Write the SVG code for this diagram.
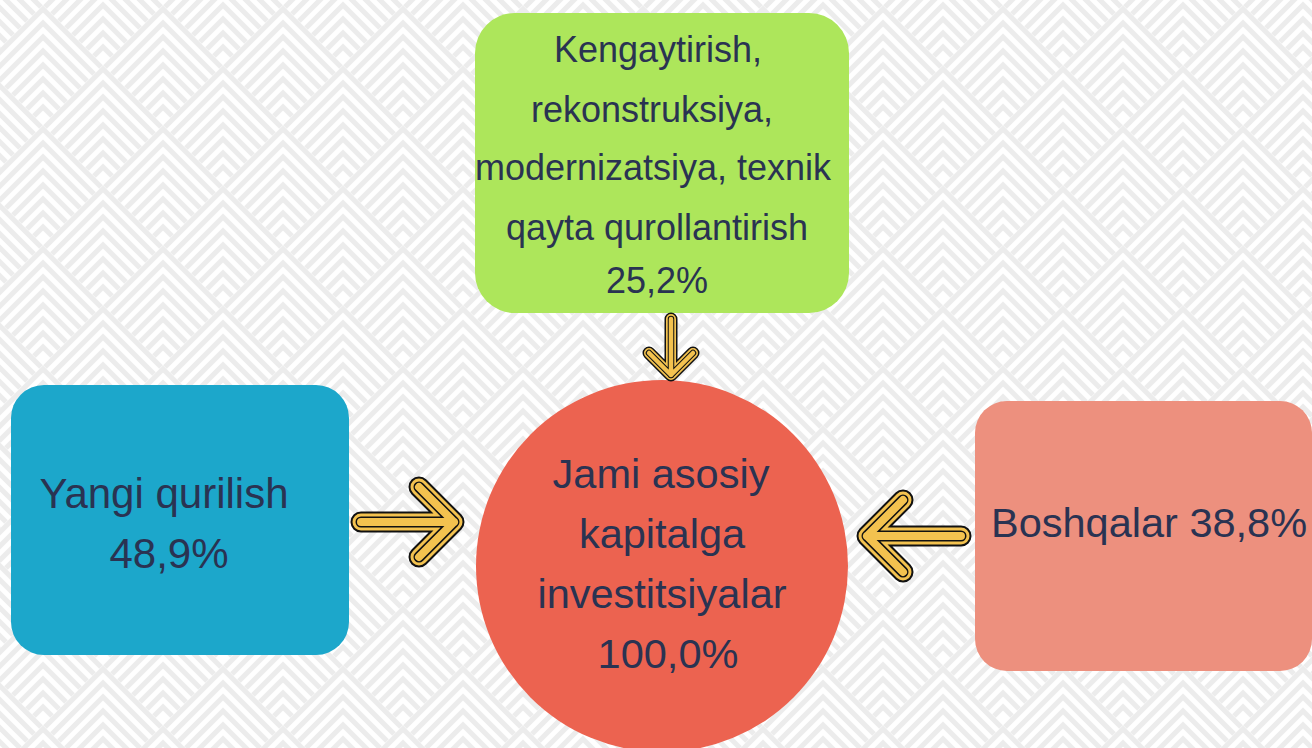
<svg xmlns="http://www.w3.org/2000/svg" xmlns:xlink="http://www.w3.org/1999/xlink" width="1312" height="748" viewBox="0 0 1312 748">
<style>
.bgl{fill:none;stroke:#ececec;stroke-width:5}
.t{font-family:"Liberation Sans",Arial,sans-serif;fill:#2a3352;text-anchor:middle}
.a{fill:none;stroke-linecap:round;stroke-linejoin:round}
.k1{stroke:#111;stroke-width:21}
.y1{stroke:#f3c24f;stroke-width:17}
.k2{stroke:#111;stroke-width:11}
.y2{stroke:#f3c24f;stroke-width:8}
.sk1{stroke:#111;stroke-width:13}
.sy1{stroke:#f3c24f;stroke-width:10}
.sk2{stroke:#111;stroke-width:6.5}
.sy2{stroke:#f3c24f;stroke-width:4.5}
</style>
<defs>
<g id="ch" class="bgl">
<polyline points="-58,2 0,-56 58,2"/>
<polyline points="-51,9 0,-42 51,9"/>
<polyline points="-44,16 0,-28 44,16"/>
<polyline points="-37,23 0,-14 37,23"/>
<polyline points="-30,30 0,0 30,30"/>
<polyline points="-23,37 0,14 23,37"/>
<polyline points="-16,44 0,28 16,44"/>
<polyline points="-9,51 0,42 9,51"/>
</g>
<pattern id="bgp" patternUnits="userSpaceOnUse" width="120" height="120" patternTransform="translate(-17,5)">
<rect width="120" height="120" fill="#ffffff"/>
<use xlink:href="#ch" x="60" y="60"/>
<use xlink:href="#ch" x="0" y="0"/>
<use xlink:href="#ch" x="120" y="0"/>
<use xlink:href="#ch" x="0" y="120"/>
<use xlink:href="#ch" x="120" y="120"/>
</pattern>
</defs>
<rect id="background" width="1312" height="748" fill="url(#bgp)"/>

<g id="node-top">
<rect x="475" y="13" width="374" height="300" rx="40" fill="#ade65b"/>
<text class="t" font-size="36" x="658" y="62">Kengaytirish,</text>
<text class="t" font-size="36" x="652" y="122">rekonstruksiya,</text>
<text class="t" font-size="36" x="653" y="180">modernizatsiya, texnik</text>
<text class="t" font-size="36" x="657" y="240">qayta qurollantirish</text>
<text class="t" font-size="36" x="657" y="293">25,2%</text>
</g>

<g id="node-left">
<rect x="11" y="385" width="338" height="270" rx="33" fill="#1ca7cb"/>
<text class="t" font-size="42" x="164" y="508">Yangi qurilish</text>
<text class="t" font-size="42" x="169" y="568">48,9%</text>
</g>

<g id="node-right">
<rect x="975" y="401" width="337" height="270" rx="32" fill="#ed907e"/>
<text class="t" font-size="41.5" x="991" y="537" style="text-anchor:start">Boshqalar 38,8%</text>
</g>

<g id="node-center">
<circle cx="662" cy="566" r="186" fill="#ec6350"/>
<text class="t" font-size="41.5" x="661" y="488">Jami asosiy</text>
<text class="t" font-size="41.5" x="662" y="548">kapitalga</text>
<text class="t" font-size="41.5" x="662" y="608">investitsiyalar</text>
<text class="t" font-size="41.5" x="668" y="668">100,0%</text>
</g>

<g id="connectors">
<g id="arrow-top">
<path class="a sk1" d="M671,319 V375 M649,353 L671,375 L693,353"/>
<path class="a sy1" d="M671,319 V375 M649,353 L671,375 L693,353"/>
<path class="a sk2" d="M671,319 V375 M649,353 L671,375 L693,353"/>
<path class="a sy2" d="M671,319 V375 M649,353 L671,375 L693,353"/>
</g>
<g id="arrow-left">
<path class="a k1" d="M361,522 H454 M419,487 L454,522 L419,557"/>
<path class="a y1" d="M361,522 H454 M419,487 L454,522 L419,557"/>
<path class="a k2" d="M361,522 H454 M419,487 L454,522 L419,557"/>
<path class="a y2" d="M361,522 H454 M419,487 L454,522 L419,557"/>
</g>
<g id="arrow-right">
<path class="a k1" d="M961,536 H867 M903,500 L867,536 L903,572"/>
<path class="a y1" d="M961,536 H867 M903,500 L867,536 L903,572"/>
<path class="a k2" d="M961,536 H867 M903,500 L867,536 L903,572"/>
<path class="a y2" d="M961,536 H867 M903,500 L867,536 L903,572"/>
</g>
</g>
</svg>
